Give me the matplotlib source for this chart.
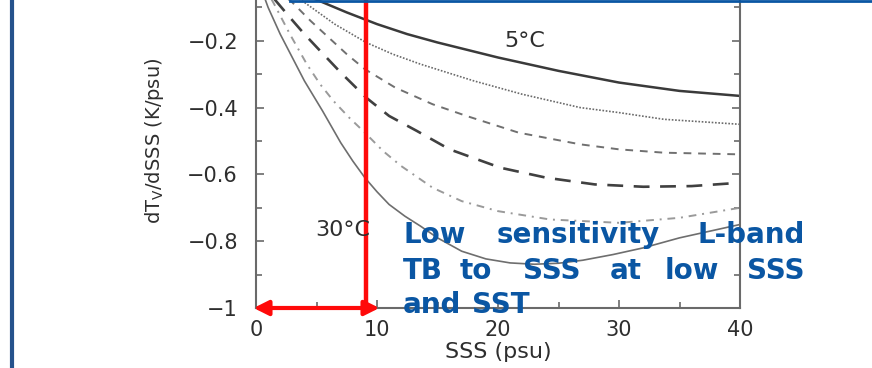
import matplotlib
matplotlib.use("Agg")
import matplotlib.pyplot as plt
from matplotlib.lines import Line2D
from matplotlib.ticker import MultipleLocator

# ---- data ----
sss_05 = [0, 2.5, 5, 7.5, 10, 12.5, 15, 20, 25, 30, 35, 40]
dt_05 = [0, -0.04, -0.077, -0.115, -0.15, -0.18, -0.205, -0.25, -0.29, -0.325, -0.35, -0.365]

sss_10 = [0, 2, 4, 6.5, 9.1, 11.3, 13.6, 18, 22, 26.8, 30, 33.7, 40]
dt_10 = [0, -0.04, -0.085, -0.15, -0.205, -0.24, -0.27, -0.32, -0.36, -0.40, -0.415, -0.435, -0.45]

sss_15 = [0, 1.5, 3, 4.5, 6, 7.5, 9, 11.5, 14.6, 17.4, 21.7, 26.8, 30, 33.7, 40]
dt_15 = [0, -0.04, -0.085, -0.14, -0.19, -0.24, -0.285, -0.34, -0.39, -0.425, -0.475, -0.51, -0.525, -0.535, -0.54]

sss_20 = [0, 1.4, 2.8, 4, 5.3, 7, 9.1, 11, 13.3, 16, 20.2, 24, 28, 32, 36, 40]
dt_20 = [0, -0.07, -0.13, -0.18, -0.23, -0.295, -0.37, -0.425, -0.47, -0.525, -0.58, -0.61, -0.63, -0.637, -0.635, -0.625]

sss_25 = [0, 0.8, 1.5, 2.8, 4.2, 5.3, 6.4, 7.7, 9, 10.5, 12, 14.6, 17, 20, 24.3, 30, 35, 40]
dt_25 = [0, -0.045, -0.09, -0.18, -0.27, -0.33, -0.38, -0.43, -0.475, -0.53, -0.575, -0.64, -0.68, -0.71, -0.735, -0.745, -0.73, -0.70]

sss_30 = [0, 1, 2, 3, 4, 5.5, 7, 8, 9, 10, 11, 12.3, 13.6, 15, 17, 19, 21, 23, 25, 27, 29.5, 32, 35, 40]
dt_30 = [0, -0.1, -0.18, -0.25, -0.32, -0.41, -0.505, -0.56, -0.61, -0.652, -0.69, -0.725, -0.755, -0.79, -0.83, -0.853, -0.865, -0.869, -0.866, -0.857, -0.84, -0.82, -0.79, -0.75]

xticks = [0, 10, 20, 30, 40]
yticks = [-1, -0.8, -0.6, -0.4, -0.2]
ytick_labels = ["\u22121", "\u22120.8", "\u22120.6", "\u22120.4", "\u22120.2"]

label_hot = "30\u00b0C"
label_cold = "5\u00b0C"
note_lines = [["Low", "sensitivity", "L-band"],
              ["TB", "to", "SSS", "at", "low", "SSS"],
              ["and", "SST"]]

# ---- figure ----
W, H = 872, 368
fig = plt.figure(figsize=(W / 100, H / 100), dpi=100)
fig.patch.set_facecolor("white")

def px(x, y):
    return x / W, 1 - y / H

ax = fig.add_axes([256 / W, (H - 308) / H, (740 - 256) / W, 334 / H])
ax.set_xlim(0, 40)
ax.set_ylim(-1, 0)

ax.plot(sss_05, dt_05, color="#3a3a3a", lw=1.8, ls="-")
ax.plot(sss_10, dt_10, color="#6a6a6a", lw=1.2, ls=(0, (1, 1)))
ax.plot(sss_15, dt_15, color="#707070", lw=1.4, ls=(0, (4, 3.5)))
ax.plot(sss_20, dt_20, color="#404040", lw=1.9, ls=(0, (6, 4)))
ax.plot(sss_25, dt_25, color="#9a9a9a", lw=1.4, ls=(0, (4, 3, 1, 3)))
ax.plot(sss_30, dt_30, color="#6e6e6e", lw=1.2, ls="-")

FAM = "DejaVu Sans"
TXT = "#2e2e2e"
ax.text(22.2, -0.2, label_cold, fontsize=16, ha="center", va="center", family=FAM, color=TXT)
ax.text(7.2, -0.765, label_hot, fontsize=16, ha="center", va="center", family=FAM, color=TXT)

for s in ["left", "bottom", "right"]:
    ax.spines[s].set_color("#6a6a6a")
    ax.spines[s].set_linewidth(1.5)
ax.spines["top"].set_visible(False)

ax.set_xticks(xticks)
ax.set_yticks(yticks)
ax.set_yticklabels(ytick_labels)
ax.xaxis.set_minor_locator(MultipleLocator(5))
ax.yaxis.set_minor_locator(MultipleLocator(0.1))
ax.tick_params(which="both", direction="in", right=True, top=False, color="#6a6a6a", width=1.2)
ax.tick_params(which="major", length=6)
ax.tick_params(which="minor", length=4)
ax.tick_params(axis="y", which="major", pad=13, labelsize=15, labelcolor=TXT)
ax.tick_params(axis="x", which="major", pad=9, labelsize=15, labelcolor=TXT)
for lab in ax.get_xticklabels() + ax.get_yticklabels():
    lab.set_family(FAM)

ax.set_xlabel("SSS (psu)", fontsize=16, family=FAM, color=TXT, labelpad=1)
ax.set_ylabel(r"dT$_\mathregular{V}$/dSSS (K/psu)", fontsize=14, family=FAM,
              color=TXT, labelpad=15)

# red annotation lines
ax.plot([9.1, 9.1], [-1.0, 0.02], color="#ff0a0a", lw=3.2, clip_on=False, solid_capstyle="butt")
ax.annotate("", xy=(-0.2, -1.0), xytext=(10.2, -1.0), xycoords="data",
            arrowprops=dict(arrowstyle="<|-|>", color="#ff0a0a", lw=3, mutation_scale=22,
                            shrinkA=0, shrinkB=0), annotation_clip=False)

# blue justified note
blue = "#0a56a3"
word_x = [[403, 497, 697], [403, 460, 523, 610, 665, 747], [403, 472]]
base_y = [243, 279, 313]
for words, xs, by in zip(note_lines, word_x, base_y):
    for w, x0 in zip(words, xs):
        fx, fy = px(x0, by)
        fig.text(fx, fy, w, fontsize=20, fontweight="bold", family="DejaVu Sans",
                 color=blue, ha="left", va="baseline")

# slide frame lines
fig.add_artist(Line2D([12 / W, 12 / W], [0, 1], transform=fig.transFigure, color="#25528c", lw=3))
fig.add_artist(Line2D([290 / W, 1], [1 - 0.8 / H, 1 - 0.8 / H], transform=fig.transFigure,
                      color="#0a56a3", lw=2))

fig.savefig("out.png", dpi=100, facecolor="white")
